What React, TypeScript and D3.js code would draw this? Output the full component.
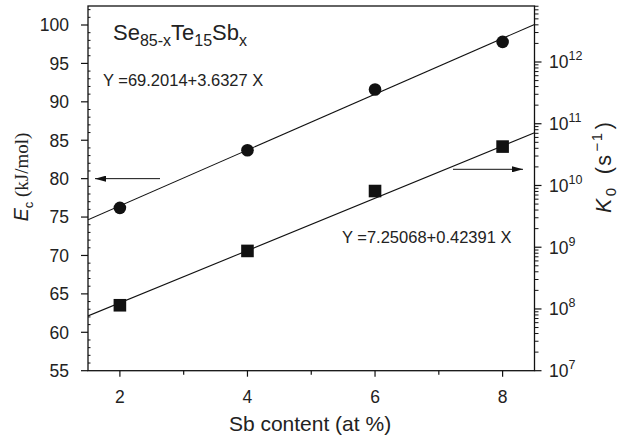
import React from "react";
import * as d3 from "d3";

const sbContent = [2, 4, 6, 8];
const ecValues = [76.2, 83.7, 91.6, 97.8];
const logK0Values = [8.06, 8.94, 9.91, 10.63];
const ecFit = [69.2014, 3.6327];
const k0Fit = [7.25068, 0.42391];
const xTicks = [2, 4, 6, 8];
const xMinor = [3, 5, 7];
const leftTicks = [55, 60, 65, 70, 75, 80, 85, 90, 95, 100];
const rightDecades = [7, 8, 9, 10, 11, 12];

const W = 633, H = 440;
const L = 88, R = 534.5, T = 6, B = 370.7;
const FONT = "'Liberation Sans', Arial, sans-serif";
const SERIF = "'Liberation Serif', 'Times New Roman', serif";

export default function App() {
  const x = d3.scaleLinear().domain([1.5, 8.5]).range([L, R]);
  const yL = d3.scaleLinear().domain([55, 100]).range([B, 25]);
  const yR = d3.scaleLog().domain([1e7, 1e12]).range([B, 62]);
  const ecTop = yL.invert(T);
  const leftMinor = d3.range(55, Math.floor(ecTop) + 1, 1).filter((v) => v % 5 !== 0);
  const rightMinor: number[] = [];
  for (let e = 7; e <= 12; e++) for (let m = 2; m <= 9; m++) {
    const v = m * Math.pow(10, e);
    if (yR(v) >= T) rightMinor.push(v);
  }
  const xs = [1.5, 8.5];
  const ecLine = d3.line<number>().x((d) => x(d)).y((d) => yL(ecFit[0] + ecFit[1] * d));
  const kLine = d3.line<number>().x((d) => x(d)).y((d) => yR(Math.pow(10, k0Fit[0] + k0Fit[1] * d)));

  return (
    <svg width={W} height={H} style={{ position: "absolute", left: 0, top: 0, background: "#fff" }} fontFamily={FONT}>
      <defs>
        <marker id="ah" viewBox="0 0 11 6" refX="11" refY="3" markerWidth="11" markerHeight="6" markerUnits="userSpaceOnUse" orient="auto">
          <path d="M0,0 L11,3 L0,6 Z" fill="#111" />
        </marker>
        <clipPath id="clip"><rect x={L} y={T} width={R - L} height={B - T} /></clipPath>
      </defs>
      <rect x={L} y={T} width={R - L} height={B - T} fill="none" stroke="#111" strokeWidth={1.3} />
      {/* x axis */}
      {xTicks.map((t) => (
        <g key={"xt" + t}>
          <line x1={x(t)} x2={x(t)} y1={B} y2={B + 6} stroke="#111" strokeWidth={1.2} />
          <text x={x(t)} y={403} fontSize={17.5} textAnchor="middle" fill="#222">{t}</text>
        </g>
      ))}
      {xMinor.map((t) => (
        <line key={"xm" + t} x1={x(t)} x2={x(t)} y1={B} y2={B + 4} stroke="#111" strokeWidth={1.2} />
      ))}
      <text x={310} y={431} fontSize={21} textAnchor="middle" fill="#222">Sb content (at %)</text>
      {/* left axis */}
      {leftTicks.map((t) => (
        <g key={"yl" + t}>
          <line x1={L - 7} x2={L} y1={yL(t)} y2={yL(t)} stroke="#111" strokeWidth={1.2} />
          <text x={69} y={yL(t)} dy="0.36em" fontSize={17.5} textAnchor="end" fill="#222">{t}</text>
        </g>
      ))}
      {leftMinor.map((t) => (
        <line key={"ylm" + t} x1={L} x2={L + 2.5} y1={yL(t)} y2={yL(t)} stroke="#111" strokeWidth={1} />
      ))}
      <text transform="translate(28,177) rotate(-90)" textAnchor="middle" fill="#222">
        <tspan fontSize={19.5} fontStyle="italic">E</tspan>
        <tspan fontSize={13} dy={5}>c</tspan>
        <tspan fontSize={19} dy={-5} fontFamily={SERIF}> (kJ/mol)</tspan>
      </text>
      {/* right axis */}
      {rightDecades.map((e) => {
        const v = Math.pow(10, e);
        return (
          <g key={"yr" + e}>
            <line x1={R} x2={R + 7} y1={yR(v)} y2={yR(v)} stroke="#111" strokeWidth={1.2} />
            <text x={549} y={yR(v)} dy="0.36em" fontSize={17.5} fill="#222">
              10<tspan fontSize={12.5} dy={-8}>{e}</tspan>
            </text>
          </g>
        );
      })}
      {rightMinor.map((v, i) => (
        <line key={"yrm" + i} x1={R} x2={R + 4} y1={yR(v)} y2={yR(v)} stroke="#111" strokeWidth={1} />
      ))}
      <text transform="translate(611,213) rotate(-90)" textAnchor="start" fill="#222" fontSize={21.5} letterSpacing={1.5}>
        <tspan fontStyle="italic">K</tspan>
        <tspan fontSize={15} dy={5} dx={1}>0</tspan>
        <tspan dy={-5} dx={12}>(s</tspan>
        <tspan fontSize={15} dy={-9} dx={2}>−1</tspan>
        <tspan dy={9} dx={2}>)</tspan>
      </text>
      {/* fits */}
      <g clipPath="url(#clip)">
        <path d={ecLine(xs) || ""} fill="none" stroke="#111" strokeWidth={1.1} />
        <path d={kLine(xs) || ""} fill="none" stroke="#111" strokeWidth={1.1} />
      </g>
      {sbContent.map((s, i) => (
        <circle key={"c" + s} cx={x(s)} cy={yL(ecValues[i])} r={6.3} fill="#111" />
      ))}
      {sbContent.map((s, i) => (
        <rect key={"s" + s} x={x(s) - 6.3} y={yR(Math.pow(10, logK0Values[i])) - 6.3} width={12.6} height={12.6} fill="#111" />
      ))}
      {/* arrows */}
      <line x1={160} x2={95} y1={yL(80)} y2={yL(80)} stroke="#111" strokeWidth={1} markerEnd="url(#ah)" />
      <line x1={453} x2={523} y1={169.3} y2={169.3} stroke="#111" strokeWidth={1} markerEnd="url(#ah)" />
      {/* annotations */}
      <text x={113} y={40} fontSize={22} fill="#222">
        Se<tspan fontSize={16} dy={6}>85-x</tspan>
        <tspan dy={-6}>Te</tspan>
        <tspan fontSize={16} dy={6}>15</tspan>
        <tspan dy={-6}>Sb</tspan>
        <tspan fontSize={16} dy={6}>x</tspan>
      </text>
      <text x={103} y={86} fontSize={16.5} fill="#222">Y =69.2014+3.6327 X</text>
      <text x={342} y={243} fontSize={16.5} fill="#222">Y =7.25068+0.42391 X</text>
    </svg>
  );
}
